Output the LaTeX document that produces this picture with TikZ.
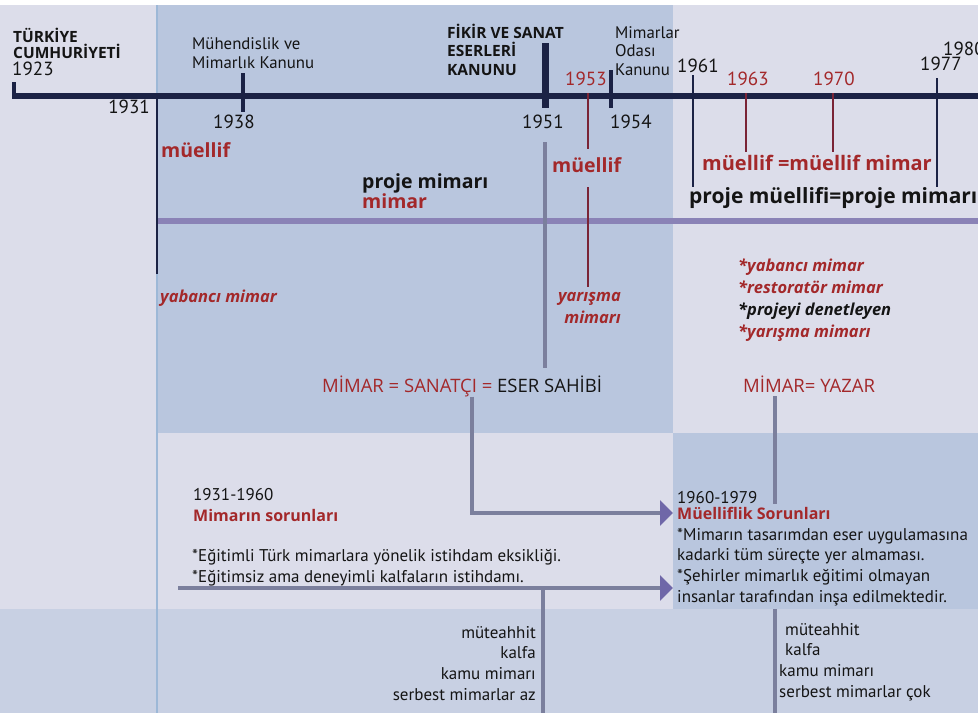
\documentclass[tikz,border=0pt]{standalone}
\usepackage{fontspec}
\setmainfont{PT Sans}
\newfontfamily\heavy{Open Sans}
\usetikzlibrary{arrows.meta}

\definecolor{navy}{HTML}{1B2245}
\definecolor{brick}{HTML}{A3282A}
\definecolor{wine}{HTML}{7A2436}
\definecolor{ink}{HTML}{141414}
\definecolor{lav}{HTML}{DCDDEA}
\definecolor{bluish}{HTML}{B9C6DE}
\definecolor{lowband}{HTML}{C8D0E3}
\definecolor{edgeblue}{HTML}{9DB8D7}
\definecolor{connc}{HTML}{7B7F9D}
\definecolor{band}{HTML}{8A82B6}
\definecolor{tipc}{HTML}{6F67A8}

\tikzset{
    yr/.style={inner sep=0pt, anchor=base west, text=ink, font=\fontsize{19}{19}\selectfont},
    kanun/.style={inner sep=0pt, anchor=base west, align=left, text=ink, font=\fontsize{16.8}{18.5}\selectfont},
    term/.style={inner sep=0pt, anchor=base west, font=\heavy\bfseries\fontsize{19.5}{19.5}\selectfont},
    ital/.style={inner sep=0pt, anchor=base west, align=left, text=brick, font=\heavy\bfseries\itshape\fontsize{16.5}{21.7}\selectfont},
    body/.style={inner sep=0pt, anchor=base west, align=left, text=ink, font=\fontsize{17}{20.6}\selectfont},
    eqn/.style={inner sep=0pt, anchor=base west, font=\heavy\fontsize{18.5}{18.5}\selectfont},
    yrtick/.style={draw=navy, line width=4.5pt},
    conn/.style={draw=connc, line width=4pt},
    arr/.style={conn, -{Triangle[length=13pt, width=25pt, color=tipc, fill=tipc]}}
}

\begin{document}
\begin{tikzpicture}[x=1pt, y=-1pt]
    \useasboundingbox (0,0) rectangle (978,713);
    % backgrounds
    \fill[white] (0,0) rectangle (978,5);
    \fill[lav] (0,5) rectangle (978,713);
    \fill[bluish] (157,5) rectangle (673,433);
    \fill[lowband] (0,609) rectangle (978,713);
    \node (box79) [fill=bluish, inner sep=0pt, minimum width=305pt, minimum height=176pt, anchor=north west] at (673,433) {};
    \draw[edgeblue, line width=2pt] (157,5) -- (157,713);
    \draw[band, line width=6pt] (157,221) -- (978,221);

    % timeline
    \coordinate (t0) at (12,96);
    \coordinate (t1) at (978,96);
    \draw[navy, line width=6pt] (t0) -- (t1);
    \draw[yrtick] (14,82) -- (14,99);
    \draw[yrtick] (243,73) -- (243,112);
    \draw[yrtick, line width=7pt] (545,43) -- (545,108);
    \draw[yrtick] (611,70) -- (611,108);

    \coordinate (c1931) at (157,93);
    \coordinate (c1951) at (545,142);
    \coordinate (c1953) at (588,93);
    \coordinate (c1961) at (693,75);
    \coordinate (c1963) at (746,93);
    \coordinate (c1970) at (833,93);
    \coordinate (c1977) at (937,78);

    % years and laws
    \node (tc) [kanun, font=\heavy\bfseries\fontsize{15.5}{15.5}\selectfont] at (13,58) {TÜRKİYE\\CUMHURİYETİ};
    \node (y1923) [yr] at (12,75) {1923};
    \node (y1931) [yr, anchor=base east] at (150,113) {1931};
    \node (y1938) [yr] at (213,128) {1938};
    \node (mmk) [kanun] at (192,68) {Mühendislik ve\\Mimarlık Kanunu};
    \node (fsek) [kanun, font=\heavy\bfseries\fontsize{15.5}{18.5}\selectfont] at (447,75) {FİKİR VE SANAT\\ESERLERİ\\KANUNU};
    \node (y1951) [yr] at (522,128) {1951};
    \node (y1953) [yr, text=brick] at (565,85) {1953};
    \node (y1954) [yr] at (610,128) {1954};
    \node (mok) [kanun] at (615,75) {Mimarlar\\Odası\\Kanunu};
    \node (y1961) [yr] at (677,72) {1961};
    \node (y1963) [yr, text=brick] at (727,85) {1963};
    \node (y1970) [yr, text=brick] at (813,85) {1970};
    \node (y1977) [yr] at (920,70) {1977};
    \node (y1980) [yr] at (943,55) {1980};

    % terms
    \node (muel31) [term, text=brick] at (161,157) {müellif};
    \node (pmim) [term, text=ink] at (362,188) {proje mimarı};
    \node (mim) [term, text=brick] at (362,208) {mimar};
    \node (muel53) [term, text=brick] at (552,172) {müellif};
    \node (muelmim) [term, text=brick, font=\heavy\bfseries\fontsize{20}{20}\selectfont] at (702,170) {müellif =müellif mimar};
    \node (pmuel) [term, text=ink, font=\heavy\bfseries\fontsize{21}{21}\selectfont] at (689,203) {proje müellifi=proje mimarı};
    \node (yab) [ital] at (160,302) {yabancı mimar};
    \node (yar) [ital, anchor=base east, align=right] at (621,323) {yarışma\\mimarı};
    \node (list79) [ital] at (738,337) {*yabancı mimar\\*restoratör mimar\\{\color{ink}*projeyi denetleyen}\\*yarışma mimarı};
    \node (sanatci) [eqn, text=brick] at (322,392) {MİMAR = SANATÇI = {\color{ink}ESER SAHİBİ}};
    \node (yazar) [eqn, text=brick] at (743,392) {MİMAR= YAZAR};

    % connectors from the timeline
    \draw[navy, line width=2.5pt, shorten >=15pt] (c1931) -- (c1931 |- yab.north);
    \draw[conn, shorten >=7pt] (c1951) -- (c1951 |- sanatci.north);
    \draw[wine, line width=2.5pt, shorten >=8pt] (c1953) -- (c1953 |- muel53.north);
    \draw[wine, line width=2.5pt, shorten <=15pt, shorten >=5pt] (c1953 |- muel53.south) -- (c1953 |- yar.north);
    \draw[navy, line width=2.5pt] (c1961) -- (c1961 |- pmuel.north);
    \draw[wine, line width=2.5pt, shorten >=3pt] (c1963) -- (c1963 |- muelmim.north);
    \draw[wine, line width=2.5pt, shorten >=3pt] (c1970) -- (c1970 |- muelmim.north);
    \draw[navy, line width=2.5pt] (c1977) -- (c1977 |- pmuel.north);

    % lower part
    \coordinate (a1) at (472,513);
    \coordinate (a2) at (178,588);
    \coordinate (j1) at (543,588);
    \coordinate (v2) at (775,713);
    \draw[arr] (sanatci.south -| a1) -- (a1) -- (box79.west |- a1);
    \draw[arr] (a2) -- (box79.west |- a2);
    \draw[conn] (j1) -- (j1 |- v2);
    \draw[conn, shorten <=4pt] (yazar.south -| v2) -- (v2);

    \node (p31) [body] at (193,521) {1931-1960\\{\heavy\bfseries\fontsize{16}{20.3}\selectfont\color{brick}Mimarın sorunları}};
    \node (s31) [body] at (192,582) {*Eğitimli Türk mimarlara yönelik istihdam eksikliği.\\*Eğitimsiz ama deneyimli kalfaların istihdamı.};
    \node (p60) [body] at (677,503) {1960-1979};
    \node (s60) [body, fill=bluish, inner ysep=3pt, inner xsep=0pt] at (677,602) {{\heavy\bfseries\fontsize{16}{20.3}\selectfont\color{brick}Müelliflik Sorunları}\\*Mimarın tasarımdan eser uygulamasına\\kadarki tüm süreçte yer almaması.\\*Şehirler mimarlık eğitimi olmayan\\insanlar tarafından inşa edilmektedir.};
    \node (az) [body, anchor=base east, align=right] at (536,700) {müteahhit\\kalfa\\kamu mimarı\\serbest mimarlar az};
    \node (cok) [body] at (779,697) {\hspace*{6pt}müteahhit\\\hspace*{6pt}kalfa\\kamu mimarı\\serbest mimarlar çok};
\end{tikzpicture}
\end{document}
